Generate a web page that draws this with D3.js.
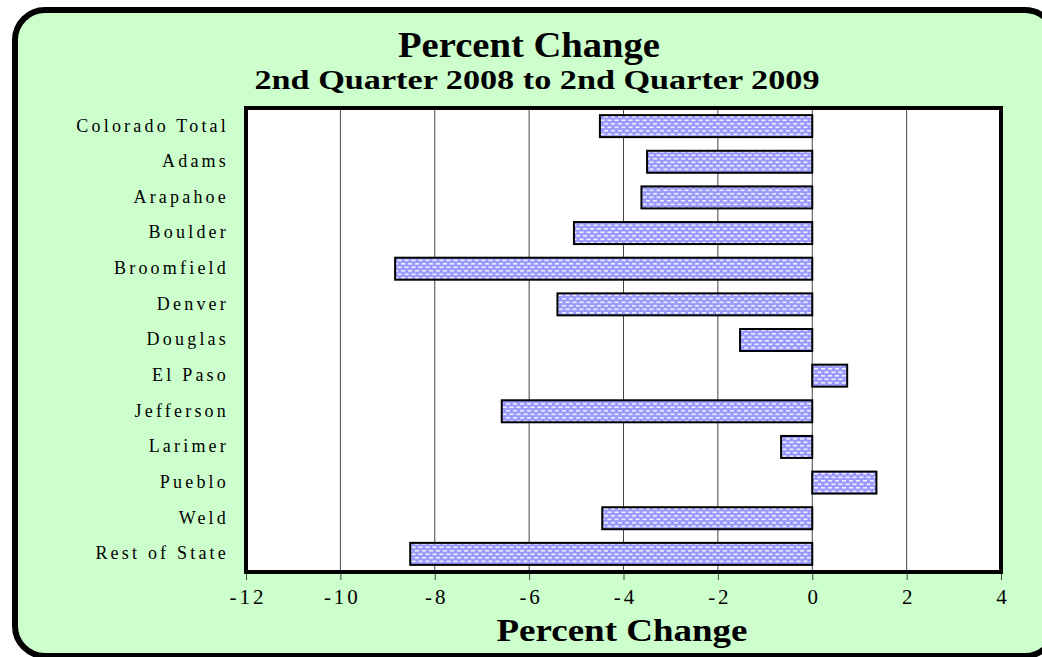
<!DOCTYPE html>
<html>
<head>
<meta charset="utf-8">
<script src="https://cdn.jsdelivr.net/npm/d3@7"></script>
<style>
  html, body { margin: 0; background: #fff; overflow: hidden; }
  svg { display: block; }
  text { font-family: "Liberation Serif", "DejaVu Serif", serif; fill: #000; }
</style>
</head>
<body>
<div id="chart"></div>
<script>
// data
const categories = ['Colorado Total', 'Adams', 'Arapahoe', 'Boulder', 'Broomfield', 'Denver',
  'Douglas', 'El Paso', 'Jefferson', 'Larimer', 'Pueblo', 'Weld', 'Rest of State'];
const values = [-4.5, -3.5, -3.62, -5.05, -8.84, -5.4, -1.53, 0.74, -6.58, -0.66, 1.36, -4.45, -8.52];
const xTicks = [-12, -10, -8, -6, -4, -2, 0, 2, 4];

const W = 1042, H = 657;
const margin = { top: 108, right: 41, bottom: 85, left: 246 };
const width = W - margin.left - margin.right;
const height = H - margin.top - margin.bottom;

const svg = d3.select('#chart').append('svg')
  .attr('width', W)
  .attr('height', H);

// dotted fill pattern for the bars
const defs = svg.append('defs');
const pat = defs.append('pattern')
  .attr('id', 'dots')
  .attr('patternUnits', 'userSpaceOnUse')
  .attr('width', 7)
  .attr('height', 7);
pat.append('rect').attr('width', 7).attr('height', 7).attr('fill', '#9a9aff');
pat.append('rect').attr('x', 1).attr('y', 1).attr('width', 4).attr('height', 1.6).attr('fill', '#eeeeff');
pat.append('rect').attr('x', 4.5).attr('y', 4.5).attr('width', 4).attr('height', 1.6).attr('fill', '#eeeeff');
pat.append('rect').attr('x', -2.5).attr('y', 4.5).attr('width', 4).attr('height', 1.6).attr('fill', '#eeeeff');

// green rounded frame (right edge runs just off the picture)
svg.append('rect')
  .attr('x', 15).attr('y', 10)
  .attr('width', 1040).attr('height', 646)
  .attr('rx', 30).attr('ry', 30)
  .attr('fill', '#ccffcc')
  .attr('stroke', '#000')
  .attr('stroke-width', 6);

// titles
svg.append('text')
  .attr('x', 529).attr('y', 57)
  .attr('text-anchor', 'middle')
  .attr('font-size', 35).attr('font-weight', 'bold')
  .attr('textLength', 262).attr('lengthAdjust', 'spacingAndGlyphs')
  .text('Percent Change');
svg.append('text')
  .attr('x', 537).attr('y', 89)
  .attr('text-anchor', 'middle')
  .attr('font-size', 27).attr('font-weight', 'bold')
  .attr('textLength', 565).attr('lengthAdjust', 'spacingAndGlyphs')
  .text('2nd Quarter 2008 to 2nd Quarter 2009');

const g = svg.append('g')
  .attr('transform', `translate(${margin.left},${margin.top})`);

const x = d3.scaleLinear()
  .domain([-12, 4])
  .range([0, width]);

const y = d3.scaleBand()
  .domain(categories)
  .range([0, height])
  .paddingInner(0.383)
  .paddingOuter(0.2);

// plot background
g.append('rect')
  .attr('width', width).attr('height', height)
  .attr('fill', '#fff');

// gridlines
g.selectAll('.grid')
  .data(xTicks.slice(1, -1))
  .enter()
  .append('line')
  .attr('x1', (d) => x(d)).attr('x2', (d) => x(d))
  .attr('y1', 0).attr('y2', height)
  .attr('stroke', '#444')
  .attr('stroke-width', 1);

// bars
g.selectAll('.bar')
  .data(values)
  .enter()
  .append('rect')
  .attr('x', (d) => x(Math.min(0, d)))
  .attr('y', (d, i) => y(categories[i]))
  .attr('width', (d) => Math.abs(x(d) - x(0)))
  .attr('height', y.bandwidth())
  .attr('fill', 'url(#dots)')
  .attr('stroke', '#000')
  .attr('stroke-width', 2);

// plot border
g.append('rect')
  .attr('width', width).attr('height', height)
  .attr('fill', 'none')
  .attr('stroke', '#000')
  .attr('stroke-width', 4);

// x axis
const xAxis = g.append('g')
  .attr('transform', `translate(0,${height + 2})`)
  .call(d3.axisBottom(x).tickValues(xTicks).tickSize(6).tickSizeOuter(0)
    .tickFormat((d) => String(d)));
xAxis.select('.domain').remove();
xAxis.selectAll('line').attr('stroke', '#444');
xAxis.selectAll('text')
  .attr('font-family', '"Liberation Serif", serif')
  .attr('font-size', 21)
  .attr('y', 30)
  .attr('dy', 0)
  .attr('fill', '#000')
  .attr('letter-spacing', 3)
  .attr('dx', 1.5);

// y labels
g.selectAll('.ylab')
  .data(categories)
  .enter()
  .append('text')
  .attr('x', -17)
  .attr('y', (d) => y(d) + y.bandwidth() / 2)
  .attr('dy', '0.3em')
  .attr('text-anchor', 'end')
  .attr('font-size', 18)
  .attr('letter-spacing', 3.2)
  .text((d) => d);

// x axis title
svg.append('text')
  .attr('x', 622).attr('y', 641)
  .attr('text-anchor', 'middle')
  .attr('font-size', 31).attr('font-weight', 'bold')
  .attr('textLength', 251).attr('lengthAdjust', 'spacingAndGlyphs')
  .text('Percent Change');
</script>
</body>
</html>
